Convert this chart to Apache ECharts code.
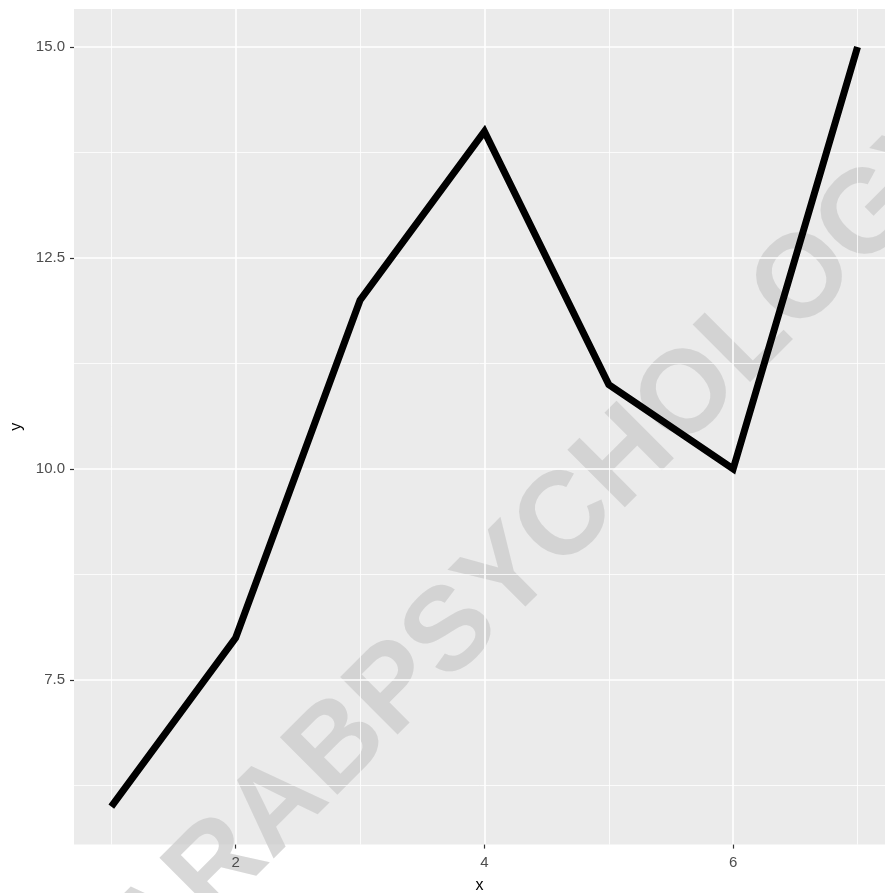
<!DOCTYPE html>
<html>
<head>
<meta charset="utf-8">
<script src="https://cdn.jsdelivr.net/npm/echarts@6/dist/echarts.min.js"></script>
<style>
html,body{margin:0;padding:0;background:#fff;}
#chart{width:885px;height:893px;}
</style>
</head>
<body>
<div id="chart"></div>
<script>
// Data
const xValues = [1, 2, 3, 4, 5, 6, 7];
const yValues = [6, 8, 12, 14, 11, 10, 15];
const xTicks = [2, 4, 6];
const xMinorGrid = [1, 3, 5, 7];
const yTicks = [7.5, 10, 12.5, 15];
const yMinorGrid = [6.25, 8.75, 11.25, 13.75];
const watermarkText = 'ARABPSYCHOLOGY';

const chart = echarts.init(document.getElementById('chart'), null, {renderer: 'canvas'});

const gridLines = [];
xTicks.forEach(v => gridLines.push({xAxis: v, lineStyle: {color: '#fff', width: 1.6, type: 'solid'}}));
xMinorGrid.forEach(v => gridLines.push({xAxis: v, lineStyle: {color: '#fff', width: 0.8, type: 'solid'}}));
yTicks.forEach(v => gridLines.push({yAxis: v, lineStyle: {color: '#fff', width: 1.6, type: 'solid'}}));
yMinorGrid.forEach(v => gridLines.push({yAxis: v, lineStyle: {color: '#fff', width: 0.8, type: 'solid'}}));

const font = 'Liberation Sans';

chart.setOption({
  animation: false,
  backgroundColor: '#ffffff',
  grid: {
    left: 74, top: 9, right: 0, bottom: 48.4,
    outerBoundsMode: 'none', containLabel: false,
    show: true, backgroundColor: '#EBEBEB', borderWidth: 0
  },
  xAxis: {
    // panel is cut off by the image edge: visible range ends at ~7.22
    type: 'value', min: 0.7, max: 7.2209, z: 10,
    name: 'x', nameLocation: 'middle', nameGap: 33,
    nameTextStyle: {color: '#000', fontSize: 16, fontFamily: font},
    axisLine: {show: false},
    splitLine: {show: false},
    axisTick: {show: true, length: 4, customValues: xTicks, lineStyle: {color: '#333', width: 1.2}},
    axisLabel: {customValues: xTicks, color: '#4D4D4D', fontSize: 15, fontFamily: font, margin: 11}
  },
  yAxis: {
    type: 'value', min: 5.55, max: 15.45, z: 10,
    name: 'y', nameLocation: 'middle', nameGap: 48, nameRotate: 90,
    nameTextStyle: {color: '#000', fontSize: 16, fontFamily: font},
    axisLine: {show: false},
    splitLine: {show: false},
    axisTick: {show: true, length: 4, customValues: yTicks, lineStyle: {color: '#333', width: 1.2}},
    axisLabel: {customValues: yTicks, color: '#4D4D4D', fontSize: 15, fontFamily: font, margin: 9,
      formatter: v => v.toFixed(1)}
  },
  graphic: [{
    type: 'text', z: 3, silent: true,
    x: 543, y: 543, rotation: Math.PI / 4,
    style: {
      text: watermarkText, fontSize: 118, fontWeight: 'bold', fontFamily: font,
      fill: 'rgba(203,203,203,0.75)', align: 'center', verticalAlign: 'middle'
    }
  }],
  series: [
    {
      type: 'line', z: 1, data: xValues.map((x, i) => [x, yValues[i]]),
      showSymbol: false, silent: true, lineStyle: {opacity: 0},
      markLine: {silent: true, symbol: ['none', 'none'], label: {show: false}, data: gridLines}
    },
    {
      type: 'line', z: 5, data: xValues.map((x, i) => [x, yValues[i]]),
      showSymbol: false, silent: true,
      lineStyle: {color: '#000', width: 7, cap: 'butt', join: 'miter'}
    }
  ]
});
</script>
</body>
</html>
